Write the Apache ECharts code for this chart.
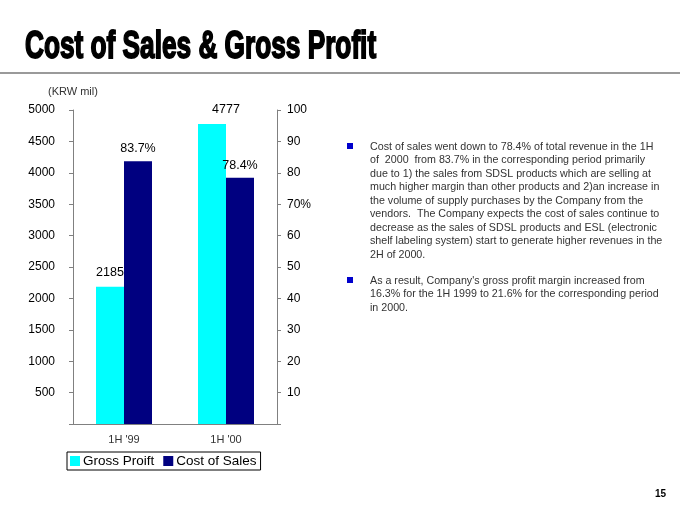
<!DOCTYPE html>
<html>
<head>
<meta charset="utf-8">
<script src="https://cdn.jsdelivr.net/npm/echarts@6/dist/echarts.min.js"></script>
<style>
  html, body { margin: 0; padding: 0; background: #fff; }
  #chart { width: 680px; height: 510px; }
</style>
</head>
<body>
<div id="chart"></div>
<script>
// values
const categories = ["1H '99", "1H '00"];
const grossProfit = [2185, 4777];          // KRW mil, left axis
const costOfSalesPct = [83.7, 78.4];       // % of revenue, right axis
const legendNames = ['Gross Proift', 'Cost of Sales'];

const bulletOne = [
  'Cost of sales went down to 78.4% of total revenue in the 1H',
  'of  2000  from 83.7% in the corresponding period primarily',
  'due to 1) the sales from SDSL products which are selling at',
  'much higher margin than other products and 2)an increase in',
  'the volume of supply purchases by the Company from the',
  'vendors.  The Company expects the cost of sales continue to',
  'decrease as the sales of SDSL products and ESL (electronic',
  'shelf labeling system) start to generate higher revenues in the',
  '2H of 2000.'
];
const bulletTwo = [
  "As a result, Company's gross profit margin increased from",
  '16.3% for the 1H 1999 to 21.6% for the corresponding period',
  'in 2000.'
];

const FONT = '"Liberation Sans", Arial, sans-serif';
const chart = echarts.init(document.getElementById('chart'));

function bodyText(lines, top) {
  return {
    type: 'text', left: 370, top: top,
    style: {
      text: lines.join('\n'), fill: '#333',
      font: '10.7px ' + FONT, lineHeight: 13.5
    }
  };
}

const option = {
  animation: false,
  textStyle: { fontFamily: FONT },
  grid: { left: 73, right: 403, top: 110, bottom: 86 },
  legend: {
    data: legendNames,
    left: 67, top: 452,
    icon: 'rect', itemWidth: 10, itemHeight: 10, itemGap: 9,
    borderColor: '#000', borderWidth: 1, borderRadius: 0,
    padding: [2, 4, 2, 3],
    textStyle: { fontSize: 13.5, color: '#000', padding: [0, 0, 0, -2] }
  },
  xAxis: {
    type: 'category', data: categories,
    axisLine: { lineStyle: { color: '#808080', width: 1 } },
    axisTick: { show: false },
    axisLabel: { color: '#333', fontSize: 11, margin: 10 }
  },
  yAxis: [
    {
      type: 'value', min: 0, max: 5000, interval: 500,
      axisLine: { show: true, lineStyle: { color: '#808080' } },
      axisTick: { show: true, length: 4, lineStyle: { color: '#808080' } },
      axisLabel: {
        color: '#000', fontSize: 12, margin: 18,
        formatter: v => (v === 0 ? '' : v)
      },
      splitLine: { show: false }
    },
    {
      type: 'value', min: 0, max: 100, interval: 10,
      axisLine: { show: true, lineStyle: { color: '#808080' } },
      axisTick: { show: true, length: 4, lineStyle: { color: '#808080' } },
      axisLabel: {
        color: '#000', fontSize: 12, margin: 10,
        formatter: v => (v === 0 ? '' : v === 70 ? '70%' : v)
      },
      splitLine: { show: false }
    }
  ],
  series: [
    {
      name: legendNames[0], type: 'bar', yAxisIndex: 0,
      data: grossProfit.map((v, i) => i === 1
        ? { value: v, label: { offset: [14, 0] } } : v),
      barWidth: 28, barGap: '0%',
      itemStyle: { color: '#00ffff' },
      label: { show: true, position: 'top', color: '#000', fontSize: 12.5, distance: 8 }
    },
    {
      name: legendNames[1], type: 'bar', yAxisIndex: 1,
      data: costOfSalesPct,
      barWidth: 28,
      itemStyle: { color: '#000080' },
      label: {
        show: true, position: 'top', color: '#000', fontSize: 12.5, distance: 6,
        formatter: p => p.value + '%'
      }
    }
  ],
  graphic: [
    {
      type: 'text', x: 25, y: 29, scaleX: 0.69,
      style: {
        text: 'Cost of Sales & Gross Profit',
        font: 'bold 38px ' + FONT, fill: '#000',
        stroke: '#000', lineWidth: 1.8
      }
    },
    {
      type: 'rect', left: 0, top: 72,
      shape: { width: 680, height: 2 },
      style: { fill: '#9a9a9a' }
    },
    {
      type: 'text', left: 48, top: 86,
      style: { text: '(KRW mil)', fill: '#333', font: '11px ' + FONT }
    },
    {
      type: 'rect', left: 347, top: 143,
      shape: { width: 6, height: 6 }, style: { fill: '#0000cc' }
    },
    bodyText(bulletOne, 140),
    {
      type: 'rect', left: 347, top: 277,
      shape: { width: 6, height: 6 }, style: { fill: '#0000cc' }
    },
    bodyText(bulletTwo, 274),
    {
      type: 'text', left: 655, top: 489,
      style: { text: '15', fill: '#000', font: 'bold 10px ' + FONT }
    }
  ]
};

chart.setOption(option);
</script>
</body>
</html>
